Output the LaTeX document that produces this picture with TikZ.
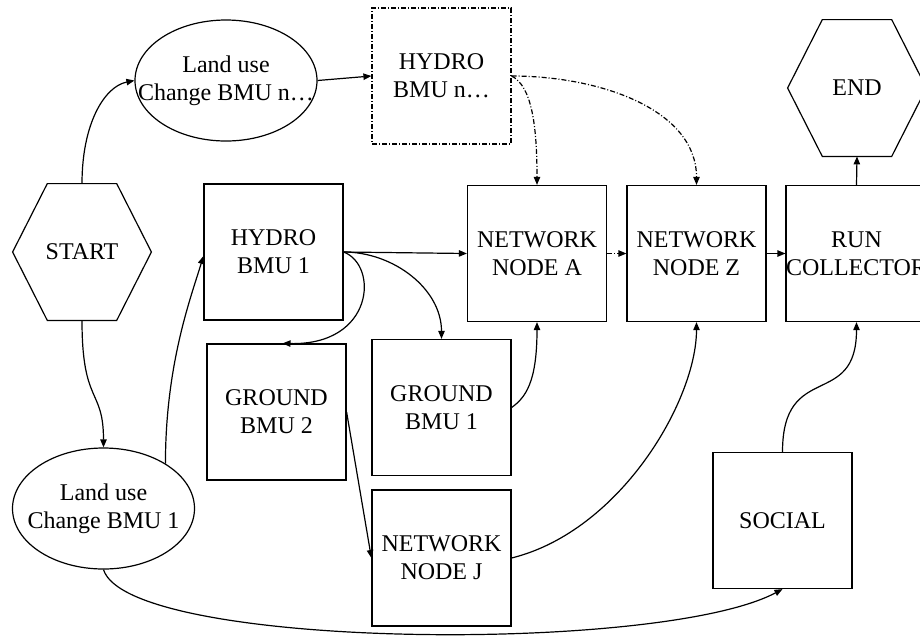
\documentclass[tikz,border=0pt]{standalone}
\usepackage{fontspec}
\setmainfont{Liberation Serif}
\usetikzlibrary{shapes.geometric,arrows.meta,calc}
\tikzset{
  lbl/.style={font=\fontsize{12}{14}\selectfont, align=center, text=black},
  box/.style={lbl, draw, line width=0.6pt, rectangle, minimum width=69.5pt, minimum height=68pt, inner sep=0pt},
  dbox/.style={box, dash pattern=on 2.5pt off 1pt on 0.5pt off 1pt},
  oval/.style={draw, line width=0.6pt, ellipse, minimum width=91pt, minimum height=60.5pt, inner sep=0pt},
  hexa/.style={lbl, rectangle, minimum width=69pt, minimum height=68pt, inner sep=0pt},
  conn/.style={line width=0.6pt, -{Triangle[length=4pt,width=3.2pt]}},
  dconn/.style={conn, dash pattern=on 2.5pt off 1pt on 0.5pt off 1pt},
}
\begin{document}
\begin{tikzpicture}[x=0.5pt,y=-0.5pt]
\useasboundingbox (0,0) rectangle (920,639);
\clip (0,0) rectangle (920,639);

% nodes
\node[hexa] (start) at (82,252) {START};
\node[hexa] (endn) at (857,88) {END};
\node[oval] (lun) at (226,80.5) {};
\node[lbl] (lunt) at (lun.center) {Land use\\Change BMU n…};
\node[oval] (lu1) at (103.5,508.5) {};
\node[lbl] (lu1t) at (lu1.center) {Land use\\Change BMU 1};
\node[dbox] (hbn) at (441.5,76) {HYDRO\\BMU n…};
\node[box] (hb1) at (273.5,252) {HYDRO\\BMU 1};
\node[box] (na) at (537,253.5) {NETWORK\\NODE A};
\node[box] (nz) at (696.5,253.5) {NETWORK\\NODE Z};
\node[box] (rc) at (856.5,253.5) {RUN\\COLLECTOR};
\node[box] (gb2) at (276.5,412) {GROUND\\BMU 2};
\node[box] (gb1) at (441.5,407.5) {GROUND\\BMU 1};
\node[box] (nj) at (441.5,558) {NETWORK\\NODE J};
\node[box] (soc) at (782.5,520.5) {SOCIAL};

% hexagon outlines
\foreach \h in {start,endn}{
  \draw[line width=0.6pt] (\h.west)
    -- ($(\h.north west)!0.25!(\h.north east)$)
    -- ($(\h.north west)!0.75!(\h.north east)$)
    -- (\h.east)
    -- ($(\h.south west)!0.75!(\h.south east)$)
    -- ($(\h.south west)!0.25!(\h.south east)$)
    -- cycle;
}

% connectors
\draw[conn] (start.north) .. controls +(0,-60) and +(-30,6) .. (lun.west);
\draw[conn] (start.south) .. controls +(0,85) and +(0,-60) .. (lu1.north);
\draw[conn] (lu1.36) .. controls +(0,-100) and +(-12,40) .. ([yshift=-2pt]hb1.west);
\draw[conn] (lun.east) -- (hbn.west);
\draw[dconn] (hbn.east) .. controls +(20,10) and +(0,-60) .. (na.north);
\draw[dconn] (hbn.east) .. controls +(89,0) and +(0,-75) .. (nz.north);
\draw[conn] (hb1.east) -- (na.west);
\draw[conn] (hb1.east) .. controls +(50,0) and +(0,-50) .. (gb1.north);
\draw[conn] (hb1.east) .. controls +(35,13) and +(92,2) .. ([xshift=3pt]gb2.north);
\draw[dconn] (na.east) -- (nz.west);
\draw[conn] (nz.east) -- (rc.west);
\draw[conn] (rc.north) -- (endn.south);
\draw[conn] (gb1.east) .. controls +(14,-10) and +(0,60) .. (na.south);
\draw[conn] (gb2.east) -- (nj.west);
\draw[conn] (nj.east) .. controls +(109,-27) and +(0,78) .. (nz.south);
\draw[conn] (lu1.south) .. controls +(25,80) and +(-122,65) .. (soc.south);
\draw[conn] (soc.north) .. controls +(0,-92) and +(0,88) .. (rc.south);
\end{tikzpicture}
\end{document}
